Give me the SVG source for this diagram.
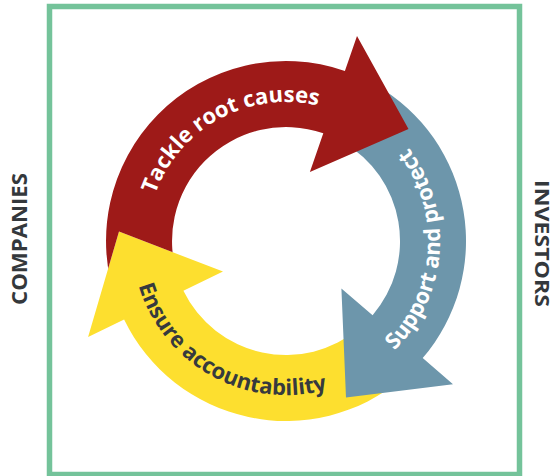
<svg xmlns="http://www.w3.org/2000/svg" xmlns:xlink="http://www.w3.org/1999/xlink" width="557" height="476" viewBox="0 0 557 476">
  <style>
    .lbl { font-family: "Open Sans", "Liberation Sans", sans-serif; font-weight: 700; font-size: 22px; }
    .side { font-family: "Open Sans", "Liberation Sans", sans-serif; font-weight: 700; font-size: 21px; fill: #34383c; }
    .white { fill: #ffffff; }
    .dark { fill: #363a3e; }
  </style>
  <defs>
    <path id="arcRed" d="M158.5,296.4 A139,139 0 0 1 401.9,164.3"/>
    <path id="arcBlue" d="M288.7,395.0 A154,154 0 0 0 310.1,88.9"/>
    <path id="arcYellow" d="M145.1,178.9 A154,154 0 0 0 414.0,326.7"/>
    <clipPath id="notYellowHead">
      <path clip-rule="evenodd" d="M0,0 H557 V476 H0 Z M119,231.5 L88.1,337.1 L223,271.6 Z"/>
    </clipPath>
  </defs>
  <rect x="0" y="0" width="557" height="476" fill="#ffffff"/>
  <g id="frame">
    <rect x="49.5" y="6.5" width="470" height="468" fill="none" stroke="#74c39a" stroke-width="5.5"/>
  </g>
  <g id="node-ensure">
    <path fill="#fddf2f" d="M401.7,378.9 A180,180 0 0 1 124.1,319.6 L88.1,337.1 L119,231.5 L223,271.6 L183.4,290.8 A114,114 0 0 0 359.3,328.3 Z"/>
    <text class="lbl dark"><textPath xlink:href="#arcYellow" href="#arcYellow" startOffset="50%" text-anchor="middle">Ensure accountability</textPath></text>
  </g>
  <g id="node-support">
    <path fill="#6d96ab" d="M376,85.1 A180,180 0 0 1 422.7,358.1 L453.0,384.2 L346,397.5 L341.4,288.5 L372.6,315.2 A114,114 0 0 0 343,142.3 Z"/>
    <text class="lbl white"><textPath xlink:href="#arcBlue" href="#arcBlue" startOffset="50%" text-anchor="middle">Support and protect</textPath></text>
  </g>
  <g id="node-tackle">
    <path fill="#9e1a18" clip-path="url(#notYellowHead)" d="M116.9,302.6 A180,180 0 0 1 344.9,70.9 L357.0,36.0 L408.5,129 L309.9,172.0 L323.3,133.3 A114,114 0 0 0 178.9,280.0 Z"/>
    <text class="lbl white"><textPath xlink:href="#arcRed" href="#arcRed" startOffset="50%" text-anchor="middle">Tackle root causes</textPath></text>
  </g>
  <g id="label-companies">
    <text class="side" transform="translate(26.7,239) rotate(-90)" text-anchor="middle" textLength="132" lengthAdjust="spacingAndGlyphs">COMPANIES</text>
  </g>
  <g id="label-investors">
    <text class="side" style="font-size:20px" transform="translate(535,243.5) rotate(90)" text-anchor="middle" textLength="127" lengthAdjust="spacingAndGlyphs">INVESTORS</text>
  </g>
</svg>
